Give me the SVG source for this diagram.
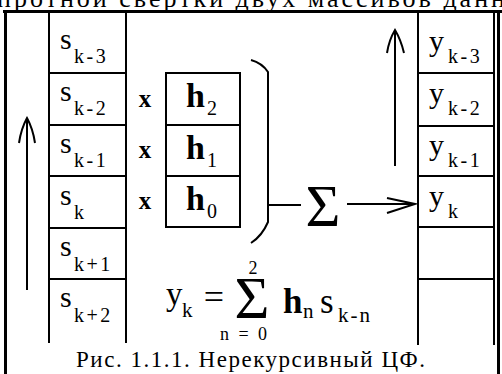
<svg xmlns="http://www.w3.org/2000/svg" width="502" height="374" viewBox="0 0 502 374">
<style>
  .ln{stroke:#000;stroke-width:2;fill:none}
  .fr{stroke:#000;stroke-width:3;fill:none}
  .t{font-family:"Liberation Serif","Times New Roman",serif;fill:#000}
  .big{font-size:30px}
  .sub{font-size:20px;letter-spacing:2.5px}
  .hb{font-size:34px;font-weight:bold}
  .hs{font-size:20px}
  .mx{font-size:25px;font-weight:bold}
  .sig{font-size:60px}
</style>
<rect width="502" height="374" fill="#fff"/>
<text class="t" x="-3" y="7" font-size="26" textLength="508" lengthAdjust="spacing">протной свертки двух массивов данн</text>
<g id="frame">
  <line class="fr" x1="3" y1="11.5" x2="502" y2="11.5"/>
  <line class="fr" x1="5.5" y1="10" x2="5.5" y2="374"/>
  <line class="fr" x1="498.5" y1="10" x2="498.5" y2="374"/>
</g>
<g id="input-array">
  <path class="ln" d="M49,11V343M126,11V343M49,73H126M49,125H126M49,176H126M49,228H126M49,279H126"/>
  <text class="t big" x="60" y="49">s</text><text class="t sub" x="74" y="63">k-3</text>
  <text class="t big" x="60" y="101">s</text><text class="t sub" x="74" y="115">k-2</text>
  <text class="t big" x="60" y="153">s</text><text class="t sub" x="74" y="167">k-1</text>
  <text class="t big" x="60" y="205">s</text><text class="t sub" x="74" y="219">k</text>
  <text class="t big" x="60" y="256">s</text><text class="t sub" x="74" y="271">k+1</text>
  <text class="t big" x="60" y="307">s</text><text class="t sub" x="74" y="322">k+2</text>
</g>
<g id="multiply">
  <text class="t mx" x="145" y="107" text-anchor="middle">x</text>
  <text class="t mx" x="145" y="158" text-anchor="middle">x</text>
  <text class="t mx" x="145" y="209" text-anchor="middle">x</text>
</g>
<g id="coefficients">
  <path class="ln" d="M166,73H240V227H166ZM166,125H240M166,176H240"/>
  <text class="t hb" x="186" y="107">h</text><text class="t hs" x="207" y="115">2</text>
  <text class="t hb" x="186" y="159">h</text><text class="t hs" x="207" y="167">1</text>
  <text class="t hb" x="186" y="210">h</text><text class="t hs" x="207" y="218">0</text>
</g>
<g id="sum">
  <text class="t sig" x="323" y="226" text-anchor="middle">Σ</text>
</g>
<g id="output-array">
  <path class="ln" d="M418,11V345M494,11V345M418,73H494M418,126H494M418,176H494M418,227H494M418,279H494"/>
  <text class="t big" x="429" y="51">y</text><text class="t sub" x="448" y="63">k-3</text>
  <text class="t big" x="429" y="103">y</text><text class="t sub" x="448" y="115">k-2</text>
  <text class="t big" x="429" y="155">y</text><text class="t sub" x="448" y="167">k-1</text>
  <text class="t big" x="429" y="206">y</text><text class="t sub" x="448" y="218">k</text>
</g>
<g id="connectors">
  <path class="ln" d="M27,290V119M19,143Q21,129 27,118Q33,129 35,143"/>
  <path class="ln" d="M395,166V31M387,53Q389,40 395,30Q401,40 404,53"/>
  <path class="ln" d="M251,60Q262,63 268,72V222Q262,236 251,243"/>
  <path class="ln" d="M269,205H301"/>
  <path class="ln" d="M347,204H415M387,198L415,204L387,213"/>
</g>
<g id="formula">
  <text class="t" x="166" y="305" font-size="33">y</text>
  <text class="t" x="182" y="317" font-size="21">k</text>
  <text class="t" x="214" y="309" font-size="36" text-anchor="middle">=</text>
  <text class="t" x="252" y="318" font-size="60" text-anchor="middle">Σ</text>
  <text class="t" x="253" y="274" font-size="18" text-anchor="middle">2</text>
  <text class="t" x="220" y="340" font-size="18" textLength="47" lengthAdjust="spacing">n = 0</text>
  <text class="t" x="283" y="313" font-size="35" font-weight="bold">h</text>
  <text class="t" x="303" y="318" font-size="21">n</text>
  <text class="t" x="320" y="313" font-size="35">s</text>
  <text class="t" x="338" y="322" font-size="21" letter-spacing="2">k-n</text>
</g>
<text class="t" x="76" y="367" font-size="23" textLength="349" lengthAdjust="spacing">Рис. 1.1.1. Нерекурсивный ЦФ.</text>
</svg>
